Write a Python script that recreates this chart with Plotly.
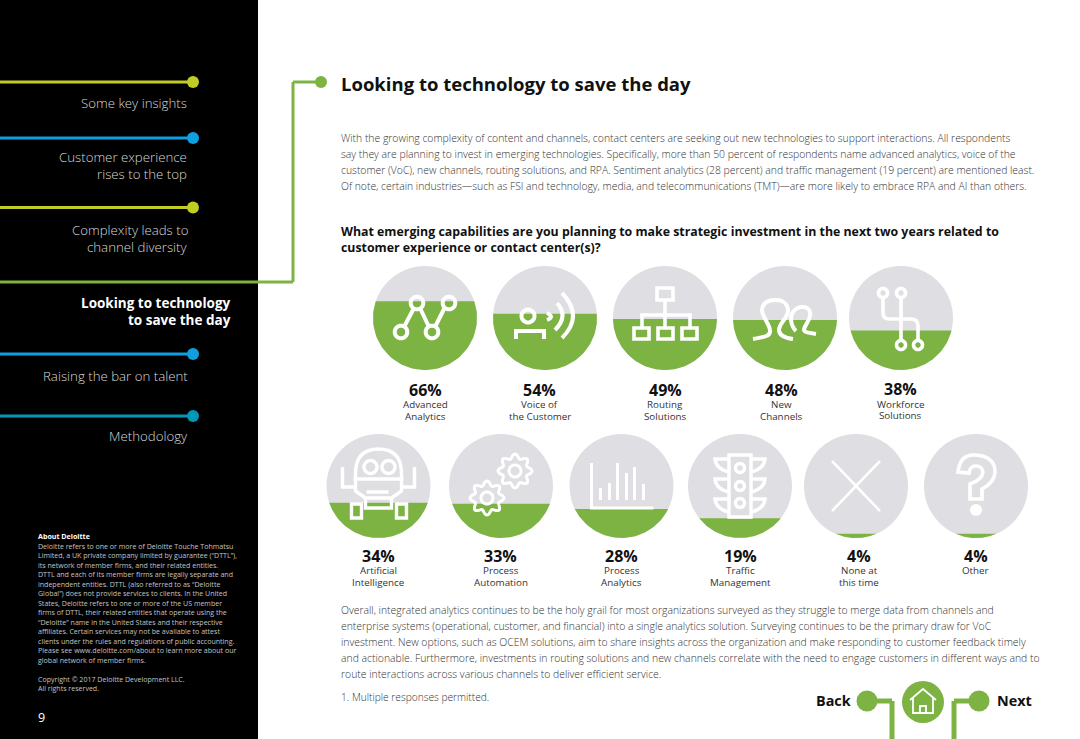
import re
import numpy as np
import plotly.graph_objects as go

# %%
# chart data
categories = [
    ["Advanced", "Analytics"], ["Voice of", "the Customer"], ["Routing", "Solutions"],
    ["New", "Channels"], ["Workforce", "Solutions"], ["Artificial", "Intelligence"],
    ["Process", "Automation"], ["Process", "Analytics"], ["Traffic", "Management"],
    ["None at", "this time"], ["Other"],
]
values = [66, 54, 49, 48, 38, 34, 33, 28, 19, 4, 4]

nav_items = ["Some key insights", "Customer experience|rises to the top",
             "Complexity leads to|channel diversity", "Looking to technology|to save the day",
             "Raising the bar on talent", "Methodology"]

title = "Looking to technology to save the day"
intro_lines = [
    "With the growing complexity of content and channels, contact centers are seeking out new technologies to support interactions. All respondents",
    "say they are planning to invest in emerging technologies. Specifically, more than 50 percent of respondents name advanced analytics, voice of the",
    "customer (VoC), new channels, routing solutions, and RPA. Sentiment analytics (28 percent) and traffic management (19 percent) are mentioned least.",
    "Of note, certain industries—such as FSI and technology, media, and telecommunications (TMT)—are more likely to embrace RPA and AI than others.",
]
question_lines = [
    "What emerging capabilities are you planning to make strategic investment in the next two years related to",
    "customer experience or contact center(s)?",
]
outro_lines = [
    "Overall, integrated analytics continues to be the holy grail for most organizations surveyed as they struggle to merge data from channels and",
    "enterprise systems (operational, customer, and financial) into a single analytics solution. Surveying continues to be the primary draw for VoC",
    "investment. New options, such as OCEM solutions, aim to share insights across the organization and make responding to customer feedback timely",
    "and actionable. Furthermore, investments in routing solutions and new channels correlate with the need to engage customers in different ways and to",
    "route interactions across various channels to deliver efficient service.",
]
about_lines = [
    "Deloitte refers to one or more of Deloitte Touche Tohmatsu",
    "Limited, a UK private company limited by guarantee (“DTTL”),",
    "its network of member firms, and their related entities.",
    "DTTL and each of its member firms are legally separate and",
    "independent entities. DTTL (also referred to as “Deloitte",
    "Global”) does not provide services to clients. In the United",
    "States, Deloitte refers to one or more of the US member",
    "firms of DTTL, their related entities that operate using the",
    "“Deloitte” name in the United States and their respective",
    "affiliates. Certain services may not be available to attest",
    "clients under the rules and regulations of public accounting.",
    "Please see www.deloitte.com/about to learn more about our",
    "global network of member firms.",
]

# %%
# page layout, everything is in page pixels
GREEN = "#7cb342"
LIME = "#c2cd23"
BLUE = "#0f9fe0"
TEAL = "#0097b9"
GREY = "#dfdfe3"
TEXT = "#333333"
FONT = "Open Sans"
R = 52
centers = [(425, 318), (545, 318), (665, 318), (785, 318), (901, 318),
           (378.5, 486), (501, 486), (621.5, 486), (740, 486), (856, 486), (976, 486)]
label_x = [425, 539.5, 665, 781.5, 900, 378, 500.5, 621.5, 740, 859, 975.5]
label_y = [(390, 404.5, 416)] * 4 + [(389, 404, 415)] + [(556, 570, 582)] * 6
icon_width = [4, 4, 3.6, 4, 3.6, 3.4, 3, 3, 3.4, 2.6, 3.6]


def ring(cx, cy, r):
    a = np.linspace(0, 2 * np.pi, 37)
    pts = [f"{cx + r * np.cos(t):.2f} {cy + r * np.sin(t):.2f}" for t in a]
    return "M " + " L ".join(pts) + " Z"


def gear(cx, cy, r):
    a = np.linspace(0, 2 * np.pi, 97)
    rad = r - 2.2 + 2.2 * np.cos(8 * a)
    pts = [f"{cx + q * np.cos(t):.2f} {cy + q * np.sin(t):.2f}" for t, q in zip(a, rad)]
    return "M " + " L ".join(pts) + " Z"


def shift(path, dx, dy):
    # numbers in the path alternate x, y
    count = [0]

    def repl(m):
        i = count[0]
        count[0] += 1
        return f"{float(m.group()) + (dx if i % 2 == 0 else dy):.2f}"

    return re.sub(r"-?\d+\.?\d*", repl, path)


traffic_side = []
for dy in [0, 20, 40]:
    traffic_side.append(f"M -11 {-27 + dy} L -25 {-27 + dy} Q -24 {-17 + dy} -11 {-14 + dy}")
    traffic_side.append(f"M 11 {-27 + dy} L 25 {-27 + dy} Q 24 {-17 + dy} 11 {-14 + dy}")

# white line icons, offsets from each circle centre
icons = [
    [ring(-24, 14, 6.3), ring(-8, -15, 6.3), ring(7, 14, 6.3), ring(24, -15, 6.3),
     "M -21 9 L -11 -10", "M -5 -10 L 4 9", "M 10 9 L 20 -11"],
    [ring(-17, -2, 6.5), "M -29 21 L -29 13 L -1 13 L -1 21",
     "M 17 -25 Q 39 -2 17 20", "M 12 -15 Q 24 -2 10 12", "M 2 -5 Q 10 -1 2 2"],
    ["M -8 -30 L 8 -30 L 8 -18 L -8 -18 Z", "M 0 -18 L 0 10", "M -23 10 L -23 -3 L 25 -3 L 25 10",
     "M -31 10 L -16 10 L -16 21 L -31 21 Z", "M -7 10 L 8 10 L 8 21 L -7 21 Z",
     "M 17 10 L 32 10 L 32 21 L 17 21 Z"],
    ["M -32 21 C -20 19 -14 18 -15 12 C -16 5 -24 -3 -23 -9 C -22 -16 -16 -18 -9 -18 C -2 -18 3 -14 3 -7 C 3 0 -6 5 -6 12 C -6 18 0 20 8 21",
     "M 11 13 C 5 7 5 -2 8 -6 C 11 -10 15 -11 18 -11 C 24 -11 26 -6 25 -2 C 24 4 19 8 19 12 C 19 14 24 15 31 16"],
    [ring(-18, -25, 4.5), ring(0, -25, 4.5), ring(0, 27, 4.5), ring(17, 27, 4.5),
     "M -18 -20 L -18 -5 Q -18 1 -11 1 L 10 1 Q 17 1 17 8 L 17 22", "M 0 -20 L 0 22"],
    ["M -23 -7 L -23 -12 Q -23 -37 0 -37 Q 23 -37 23 -12 L 23 -7", ring(-8, -19, 6.5), ring(10, -19, 6.5),
     "M -25 -7 L 25 -7", "M -36 -19 L -36 1 L -23 1", "M 36 -19 L 36 1 L 23 1",
     "M -23 -7 L -23 5 L -13 12 L 13 12 L 23 5 L 23 -7", "M -12 6 L 10 6",
     "M -13 12 L -13 22 L 13 22 L 13 12", "M -27 18 L -17 18 L -17 32 L -27 32 Z",
     "M 18 18 L 28 18 L 28 32 L 18 32 Z"],
    [gear(14, -15, 17), ring(14, -15, 6), gear(-14, 12, 17), ring(-14, 12, 6)],
    ["M -30 -23 L -30 22 L 32 22", "M -21 2 L -21 14", "M -12 -3 L -12 14", "M -4 -23 L -4 14",
     "M 5 -13 L 5 14", "M 13 -19 L 13 14", "M 22 -2 L 22 14"],
    ["M -11 -31 L 11 -31 L 11 31 L -11 31 Z", ring(0, -18, 4.5), ring(0, 0, 4.5), ring(0, 17, 4.5)] + traffic_side,
    ["M -24 -25 L 24 25", "M 24 -25 L -24 25"],
    ["M -18 -14 Q -16 -32 -1 -31 Q 19 -30 19 -14 Q 19 -4 6 3 L 6 13 L -6 13 L -6 -2 Q 6 -6 7 -14 Q 6 -20 0 -20 Q -6 -20 -7 -13 Z"],
]

fig = go.Figure()
shapes = []
annots = []


def text(x, y, s, size, color=TEXT, anchor="left", weight=400):
    annots.append(dict(x=x, y=y, xref="x", yref="y", text=s, showarrow=False, xanchor=anchor,
                       yanchor="middle", align=anchor, borderpad=0, borderwidth=0,
                       font=dict(family=FONT, size=size, color=color, weight=weight)))


def seg(x0, y0, x1, y1, color, width):
    shapes.append(dict(type="line", x0=x0, y0=y0, x1=x1, y1=y1, layer="below",
                       line=dict(color=color, width=width)))


def dot(cx, cy, r, color, layer="below"):
    shapes.append(dict(type="circle", x0=cx - r, x1=cx + r, y0=cy - r, y1=cy + r, layer=layer,
                       fillcolor=color, line=dict(width=0)))


# %%
# sidebar
shapes.append(dict(type="rect", x0=0, x1=258, y0=0, y1=739, layer="below",
                   fillcolor="#000000", line=dict(width=0)))
for y, color in zip([82, 138, 207.5, 354, 416], [LIME, BLUE, LIME, BLUE, TEAL]):
    seg(0, y, 193, y, color, 3)
    dot(193, y, 6, color)
seg(0, 282, 293, 282, GREEN, 3)
seg(293, 282, 293, 82, GREEN, 3)
seg(293, 82, 321, 82, GREEN, 3)
dot(321, 82, 6, GREEN)

nav_pos = [(187, [102.5]), (186.5, [157, 173.5]), (188, [230, 246.5]), (231, [303, 320]), (188, [376]), (188, [436])]
for i, (item, (x, ys)) in enumerate(zip(nav_items, nav_pos)):
    for part, y in zip(item.split("|"), ys):
        if i == 3:
            text(x, y, part, 13.5, "#ffffff", "right", 700)
        else:
            text(x, y, part, 13.25, "#d8d8d8", "right", 300)

text(38, 536, "About Deloitte", 7.1, "#ffffff", weight=700)
for i, line in enumerate(about_lines):
    text(38, 545.7 + i * 9.5, line, 7.05, "#c4c4c4")
text(38, 678.5, "Copyright © 2017 Deloitte Development LLC.", 7.05, "#c4c4c4")
text(38, 688, "All rights reserved.", 7.05, "#c4c4c4")
text(38, 717.5, "9", 12.5, "#ffffff")

# %%
# main text
text(341, 83.5, title, 18.5, "#111111", weight=700)
for line, y in zip(intro_lines, [138, 154, 170, 185.5]):
    text(341, y, line, 10.38, TEXT, weight=300)
for line, y in zip(question_lines, [231, 247]):
    text(341, y, line, 12.35, "#111111", weight=700)
for line, y in zip(outro_lines, [610, 626, 642, 658, 673.5]):
    text(341, y, line, 10.4, TEXT, weight=300)
text(341, 697, "1. Multiple responses permitted.", 10.2, TEXT, weight=300)

# %%
# circles, filled from the bottom by share of respondents
for name, value, (cx, cy), lx, ys, icon, w in zip(categories, values, centers, label_x, label_y, icons, icon_width):
    dot(cx, cy, R, GREY)
    level = cy + R - value / 100 * 2 * R
    a = np.arccos(np.clip((level - cy) / R, -1, 1))
    t = np.linspace(-a, a, 80)
    fig.add_trace(go.Scatter(x=cx + R * np.sin(t), y=cy + R * np.cos(t), mode="lines", fill="toself",
                             fillcolor=GREEN, line=dict(width=0), hoverinfo="skip", showlegend=False))
    for path in icon:
        shapes.append(dict(type="path", path=shift(path, cx, cy), layer="above",
                           line=dict(color="#ffffff", width=w)))
    text(lx, ys[0], f"{value}%", 16, "#111111", "center", 700)
    for part, y in zip(name, ys[1:]):
        text(lx, y, part, 9.8, TEXT, "center", 400)

# question mark dot
shapes.append(dict(type="circle", x0=970, x1=982, y0=504, y1=516, layer="above",
                   fillcolor="#ffffff", line=dict(width=0)))

# %%
# back / home / next
seg(867, 701, 892, 701, GREEN, 5)
seg(892, 701, 892, 739, GREEN, 5)
seg(979, 701, 954, 701, GREEN, 5)
seg(954, 701, 954, 739, GREEN, 5)
dot(867, 701, 10.5, GREEN)
dot(979, 701, 10.5, GREEN)
dot(923, 702, 21, GREEN)
for path in ["M -13 -2 L 0 -13 L 13 -2", "M -10 -4 L -10 11 L 10 11 L 10 -4", "M -3 11 L -3 4 L 3 4 L 3 11"]:
    shapes.append(dict(type="path", path=shift(path, 923, 702), layer="above",
                       line=dict(color="#ffffff", width=1.8)))
text(851, 700.5, "Back", 14.4, "#111111", "right", 700)
text(997, 700.5, "Next", 14.4, "#111111", "left", 700)

fig.update_xaxes(range=[0, 1080], visible=False, fixedrange=True)
fig.update_yaxes(range=[739, 0], visible=False, fixedrange=True)
fig.update_layout(width=1080, height=739, margin=dict(l=0, r=0, t=0, b=0), paper_bgcolor="#ffffff",
                  plot_bgcolor="#ffffff", showlegend=False, shapes=shapes, annotations=annots)

fig.write_html("out.html", config={"displayModeBar": False},
               post_script="document.body.style.margin='0';document.body.style.overflow='hidden';")
